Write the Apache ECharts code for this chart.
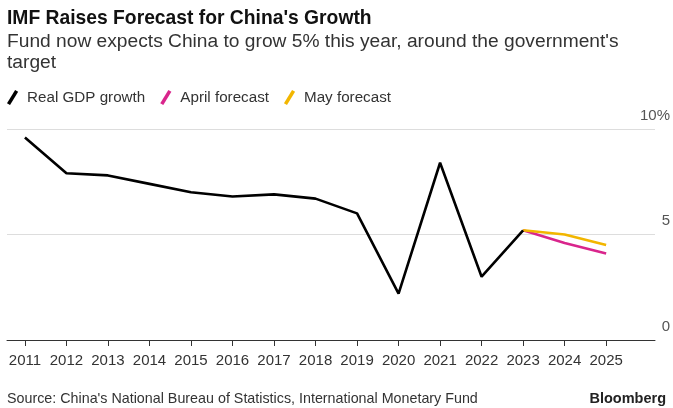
<!DOCTYPE html>
<html>
<head>
<meta charset="utf-8">
<script src="https://cdn.jsdelivr.net/npm/echarts@6/dist/echarts.min.js"></script>
<style>html,body{margin:0;padding:0;background:#fff;}#c{width:673px;height:408px;}</style>
</head>
<body>
<div id="c"></div>
<script>
const years = [2011, 2012, 2013, 2014, 2015, 2016, 2017, 2018, 2019, 2020, 2021, 2022, 2023];
const realGDP = [9.6, 7.9, 7.8, 7.4, 7.0, 6.8, 6.9, 6.7, 6.0, 2.2, 8.4, 3.0, 5.2];
const forecastYears = [2023, 2024, 2025];
const aprilForecast = [5.2, 4.6, 4.1];
const mayForecast = [5.2, 5.0, 4.5];
const xTickYears = [2011, 2012, 2013, 2014, 2015, 2016, 2017, 2018, 2019, 2020, 2021, 2022, 2023, 2024, 2025];
const yTicks = [0, 5, 10];

const FONT = 'Liberation Sans, Arial, sans-serif';
const pairs = (xs, ys) => xs.map((x, i) => [x, ys[i]]);
const iconPath = 'path://M0,13 L8,0 L11,1.8 L3,14.8 Z';

const chart = echarts.init(document.getElementById('c'), null, {renderer: 'canvas'});
chart.setOption({
  animation: false,
  backgroundColor: '#fff',
  textStyle: {fontFamily: FONT},
  title: [
    {text: "IMF Raises Forecast for China's Growth", left: 7, top: 9, padding: 0,
     textStyle: {fontFamily: FONT, fontSize: 19.3, fontWeight: 'bold', color: '#111', lineHeight: 19}},
    {text: "Fund now expects China to grow 5% this year, around the government's\ntarget", left: 7, top: 31, padding: 0,
     textStyle: {fontFamily: FONT, fontSize: 19.2, fontWeight: 'normal', color: '#333', lineHeight: 21}},
    {text: "Source: China's National Bureau of Statistics, International Monetary Fund", left: 7, top: 392, padding: 0,
     textStyle: {fontFamily: FONT, fontSize: 14.3, fontWeight: 'normal', color: '#333', lineHeight: 15}},
    {text: "Bloomberg", right: 7, top: 391, padding: 0,
     textStyle: {fontFamily: FONT, fontSize: 14.5, fontWeight: 'bold', color: '#222', lineHeight: 15}}
  ],
  legend: {
    left: 7, top: 90, padding: 0, itemGap: 15, itemWidth: 13, itemHeight: 15,
    icon: iconPath,
    textStyle: {fontFamily: FONT, fontSize: 15.2, color: '#333', padding: [0, 0, 0, 3]},
    data: ['Real GDP growth', 'April forecast', 'May forecast']
  },
  grid: {left: 7, right: 16, top: 129, bottom: 68},
  xAxis: {
    type: 'value', min: 2010.568, max: 2026.177,
    axisLine: {show: true, lineStyle: {color: '#333', width: 1}},
    axisTick: {show: true, length: 6, lineStyle: {color: '#333'}, customValues: xTickYears},
    axisLabel: {show: true, margin: 13, fontSize: 15, color: '#333', fontFamily: FONT,
      customValues: xTickYears, formatter: v => String(v)},
    splitLine: {show: false}
  },
  yAxis: {
    type: 'value', position: 'right', min: 0, max: 10, interval: 5,
    axisLine: {show: false}, axisTick: {show: false},
    axisLabel: {show: true, inside: false, margin: 15, align: 'right', verticalAlign: 'bottom',
      fontSize: 15, color: '#555', fontFamily: FONT, lineHeight: 15, padding: [0, 0, 6, 0],
      formatter: v => (v === 10 ? '10%' : String(v))},
    splitLine: {show: true, lineStyle: {color: '#ddd', width: 1}}
  },
  series: [
    {name: 'Real GDP growth', type: 'line', data: pairs(years, realGDP), showSymbol: false, symbol: 'none',
     color: '#000', lineStyle: {color: '#000', width: 2.6}, z: 3},
    {name: 'April forecast', type: 'line', data: pairs(forecastYears, aprilForecast), showSymbol: false, symbol: 'none',
     color: '#d9258c', lineStyle: {color: '#d9258c', width: 2.6}, z: 2},
    {name: 'May forecast', type: 'line', data: pairs(forecastYears, mayForecast), showSymbol: false, symbol: 'none',
     color: '#f2b600', lineStyle: {color: '#f2b600', width: 2.6}, z: 2}
  ]
});
</script>
</body>
</html>
